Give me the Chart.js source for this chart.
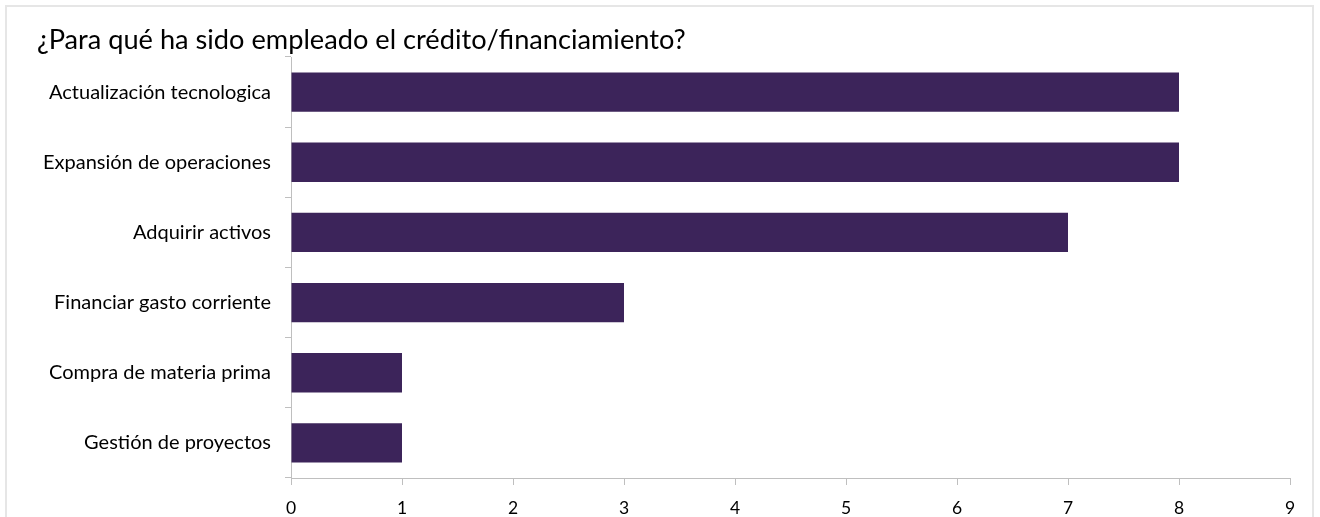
<!DOCTYPE html>
<html>
<head>
<meta charset="utf-8">
<script src="https://cdn.jsdelivr.net/npm/chart.js@4"></script>
<style>
  html, body { margin: 0; padding: 0; background: #fff; }
  #wrap { width: 1320px; height: 517px; }
</style>
</head>
<body>
<div id="wrap"><canvas id="usage-chart"></canvas></div>
<script>
// Uses of the credit / financing, number of answers per category
const categories = [
    'Actualización tecnologica',
    'Expansión de operaciones',
    'Adquirir activos',
    'Financiar gasto corriente',
    'Compra de materia prima',
    'Gestión de proyectos'
];
const answers = [8, 8, 7, 3, 1, 1];
const xTicks = [0, 1, 2, 3, 4, 5, 6, 7, 8, 9];

const BAR_COLOR = '#3C245A';
const AXIS_COLOR = '#BFBFBF';
const FONT = 'Lato, "Open Sans", sans-serif';

// Light frame around the whole chart
const framePlugin = {
    id: 'frame',
    beforeDraw(chart) {
        const { ctx, width, height } = chart;
        ctx.save();
        ctx.strokeStyle = '#E6E6E6';
        ctx.lineWidth = 2;
        ctx.strokeRect(6, 6, width - 13, height + 10);
        ctx.restore();
    }
};

const ctx = document.getElementById('usage-chart');

new Chart(ctx, {
    type: 'bar',
    data: {
        labels: categories,
        datasets: [{
            label: 'Respuestas',
            data: answers,
            backgroundColor: BAR_COLOR,
            borderWidth: 0,
            categoryPercentage: 1,
            barPercentage: 0.56
        }]
    },
    options: {
        indexAxis: 'y',
        responsive: true,
        maintainAspectRatio: false,
        animation: false,
        layout: {
            padding: { left: 37, right: 30, top: 0, bottom: 0 }
        },
        plugins: {
            legend: { display: false },
            tooltip: { enabled: false },
            title: {
                display: true,
                text: '¿Para qué ha sido empleado el crédito/financiamiento?',
                align: 'start',
                color: '#000',
                font: { family: FONT, size: 27.2, weight: 'normal', lineHeight: 1 },
                padding: { top: 27, bottom: 2.8 }
            }
        },
        scales: {
            x: {
                min: 0,
                max: 9,
                afterBuildTicks: (scale) => {
                    scale.ticks = xTicks.map(v => ({ value: v }));
                },
                afterFit: (scale) => { scale.height = 39; },
                grid: {
                    drawOnChartArea: false,
                    drawTicks: true,
                    tickLength: 7,
                    color: AXIS_COLOR
                },
                border: { display: true, color: AXIS_COLOR, width: 1 },
                ticks: {
                    color: '#000',
                    padding: 13,
                    font: { family: FONT, size: 17.5 }
                }
            },
            y: {
                afterFit: (scale) => { scale.width = 254; },
                grid: {
                    drawOnChartArea: false,
                    drawTicks: true,
                    tickLength: 6,
                    offset: true,
                    color: AXIS_COLOR
                },
                border: { display: true, color: AXIS_COLOR, width: 1 },
                ticks: {
                    color: '#000',
                    padding: 14,
                    font: { family: FONT, size: 20 }
                }
            }
        }
    },
    plugins: [framePlugin]
});
</script>
</body>
</html>
